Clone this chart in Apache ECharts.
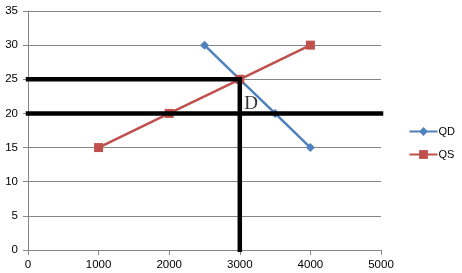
<!DOCTYPE html>
<html><head><meta charset="utf-8">
<script src="https://cdn.jsdelivr.net/npm/echarts@6/dist/echarts.min.js"></script>
<style>html,body{margin:0;padding:0;background:#fff}#c{width:462px;height:273px}</style>
</head><body><div id="c"></div>
<script>
var qdX = [2500, 3000, 3500, 4000];
var qdY = [30, 25, 20, 15];
var qsX = [1000, 2000, 3000, 4000];
var qsY = [15, 20, 25, 30];
var line25 = [[0, 25], [3000, 25]];
var line20 = [[0, 20], [5000, 20]];
var lineV = [[3000, 0], [3000, 25]];
var labelD = [[3160, 21.4]];
var xTicks = [0, 1000, 2000, 3000, 4000, 5000];
var yTicks = [0, 5, 10, 15, 20, 25, 30, 35];

function pairs(xs, ys) { return xs.map(function (x, i) { return [x, ys[i]]; }); }
var font = 'Liberation Sans';
var chart = echarts.init(document.getElementById('c'));
var blackLine = function (d) {
  return { type: 'line', data: d, symbol: 'none', z: 5, silent: true,
    lineStyle: { color: '#000', width: 4.5, cap: 'square' } };
};
chart.setOption({
  animation: false,
  grid: { left: 28, right: 81, top: 11, bottom: 23 },
  legend: {
    orient: 'vertical', right: 2, top: 121, itemGap: 12, itemWidth: 28, itemHeight: 11,
    data: ['QD', 'QS'],
    textStyle: { fontFamily: font, fontSize: 11, color: '#000', padding: [0, 0, 0, -4] }
  },
  xAxis: {
    type: 'value', min: 0, max: 5000, interval: 1000,
    axisLine: { lineStyle: { color: '#868686', width: 1 } },
    axisTick: { show: true, length: 5, lineStyle: { color: '#868686' } },
    splitLine: { show: false },
    axisLabel: { fontFamily: font, fontSize: 11.5, color: '#000', margin: 9,
      formatter: function (v) { return String(v); } }
  },
  yAxis: {
    type: 'value', min: 0, max: 35, interval: 5,
    axisLine: { show: true, lineStyle: { color: '#868686', width: 1 } },
    axisTick: { show: true, length: 5, lineStyle: { color: '#868686' } },
    splitLine: { lineStyle: { color: '#868686', width: 1 } },
    axisLabel: { fontFamily: font, fontSize: 11.5, color: '#000', margin: 10 }
  },
  series: [
    { name: 'QD', type: 'line', data: pairs(qdX, qdY), symbol: 'diamond', symbolSize: 9,
      itemStyle: { color: '#4F81BD' }, lineStyle: { color: '#4F81BD', width: 2.5 }, z: 3 },
    { name: 'QS', type: 'line', data: pairs(qsX, qsY), symbol: 'rect', symbolSize: 9,
      itemStyle: { color: '#C0504D' }, lineStyle: { color: '#C0504D', width: 2.5 }, z: 3 },
    blackLine(line25), blackLine(line20), blackLine(lineV),
    { type: 'scatter', data: labelD, symbolSize: 0, z: 6, silent: true,
      label: { show: true, position: 'inside', formatter: 'D', color: '#000',
        fontFamily: 'Liberation Serif', fontSize: 19 } }
  ]
});
</script></body></html>
